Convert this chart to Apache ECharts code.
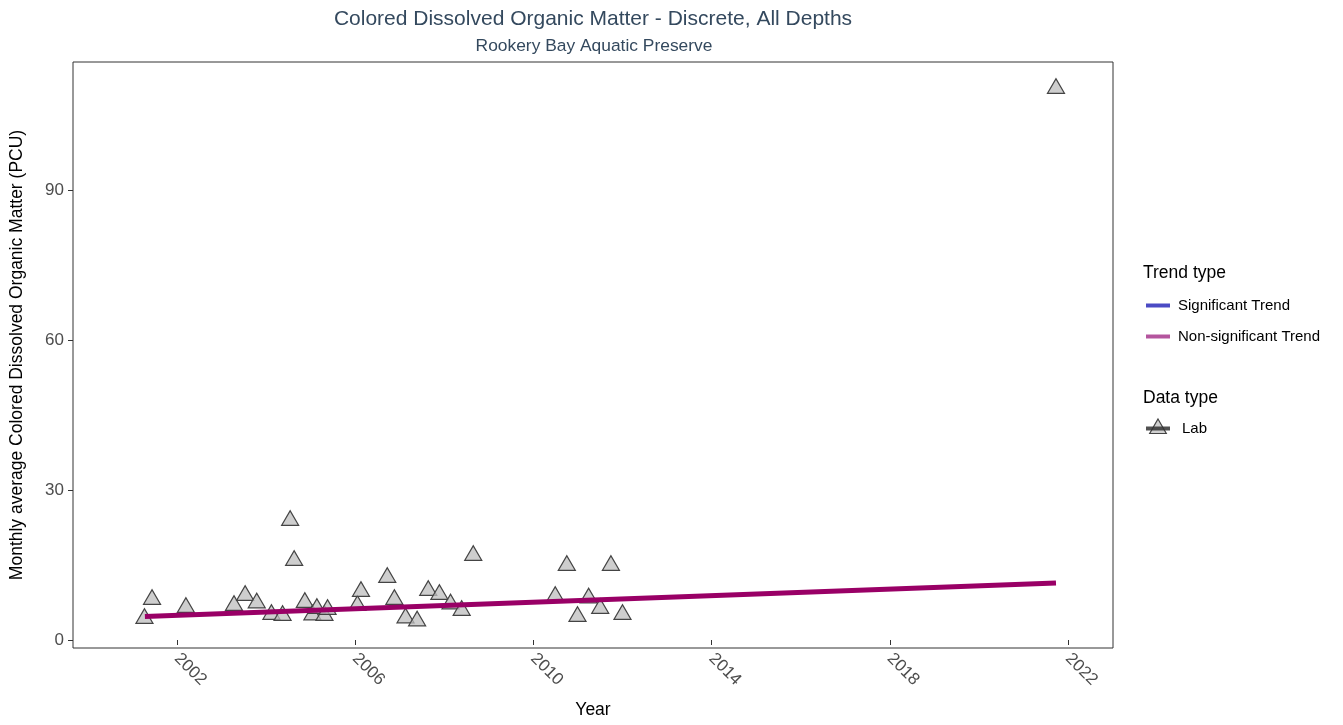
<!DOCTYPE html>
<html>
<head>
<meta charset="utf-8">
<script src="https://cdn.jsdelivr.net/npm/echarts@6/dist/echarts.min.js"></script>
<style>html,body{margin:0;padding:0;background:#fff}#c{width:1343px;height:725px}</style>
</head>
<body>
<div id="c"></div>
<script>
// Decimal years of monthly observations (Lab)
var labYears = [2001.27, 2001.44, 2002.20, 2003.28, 2003.53, 2003.79, 2004.12, 2004.37, 2004.54, 2004.63,
  2004.87, 2005.04, 2005.14, 2005.31, 2005.38, 2006.05, 2006.13, 2006.72, 2006.88, 2007.13,
  2007.39, 2007.64, 2007.89, 2008.14, 2008.39, 2008.65, 2010.49, 2010.75, 2010.99, 2011.24,
  2011.50, 2011.74, 2012.00, 2021.73];
var labValues = [4.3, 8.1, 6.5, 6.9, 8.9, 7.4, 5.1, 4.9, 23.9, 15.9,
  7.5, 5.0, 6.3, 4.9, 6.1, 6.9, 9.7, 12.5, 8.1, 4.4,
  3.8, 9.9, 9.1, 7.2, 5.9, 16.9, 8.7, 14.9, 4.7, 8.4,
  6.3, 14.9, 5.1, 110.3];
var trendYears = [2001.28, 2021.73];
var trendValues = [4.7, 11.4];
var xTicks = [2002, 2006, 2010, 2014, 2018, 2022];
var yTicks = [0, 30, 60, 90];

var labData = labYears.map(function (y, i) { return [y, labValues[i]]; });
var trendData = trendYears.map(function (y, i) { return [y, trendValues[i]]; });

var chart = echarts.init(document.getElementById('c'), null, { renderer: 'canvas' });
var font = 'Liberation Sans, Arial, sans-serif';
chart.setOption({
  animation: false,
  backgroundColor: '#fff',
  textStyle: { fontFamily: font },
  title: [
    { text: 'Colored Dissolved Organic Matter - Discrete, All Depths', left: 588, top: 4, textAlign: 'center',
      textStyle: { fontSize: 21, fontWeight: 'normal', color: '#34495e', fontFamily: font } },
    { text: 'Rookery Bay Aquatic Preserve', left: 589, top: 33, textAlign: 'center',
      textStyle: { fontSize: 17.4, fontWeight: 'normal', color: '#34495e', fontFamily: font } }
  ],
  grid: { left: 73, right: 230, top: 62, bottom: 77, show: true, borderColor: '#333', borderWidth: 1, backgroundColor: '#fff' },
  xAxis: {
    type: 'value', min: 1999.666, max: 2023.01,
    name: 'Year', nameLocation: 'middle', nameGap: 53,
    nameTextStyle: { fontSize: 17.5, color: '#000', fontFamily: font },
    axisLine: { show: false },
    splitLine: { show: false },
    axisTick: { show: true, length: 5, lineStyle: { color: '#333' }, customValues: xTicks },
    axisLabel: { customValues: xTicks, rotate: -45, fontSize: 17, color: '#4d4d4d', margin: 8, fontFamily: font,
      formatter: function (v) { return String(Math.round(v)); } }
  },
  yAxis: {
    type: 'value', min: -1.6, max: 115.6,
    name: 'Monthly average Colored Dissolved Organic Matter (PCU)', nameLocation: 'middle', nameGap: 47,
    nameTextStyle: { fontSize: 17.5, color: '#000', fontFamily: font },
    axisLine: { show: false },
    splitLine: { show: false },
    axisTick: { show: true, length: 5, lineStyle: { color: '#333' }, customValues: yTicks },
    axisLabel: { customValues: yTicks, fontSize: 17, color: '#4d4d4d', margin: 9, fontFamily: font }
  },
  legend: {
    orient: 'vertical', left: 1146, top: 298, padding: 0, itemWidth: 24, itemHeight: 4, itemGap: 16,
    textStyle: { fontSize: 15, color: '#000', fontFamily: font, padding: [0, 0, 0, 3] },
    data: [
      { name: 'Significant Trend', icon: 'rect' },
      { name: 'Non-significant Trend', icon: 'rect' }
    ]
  },
  graphic: [
    { type: 'text', left: 1143, top: 264, style: { text: 'Trend type', fill: '#000', font: '17.5px Liberation Sans, Arial, sans-serif' } },
    { type: 'text', left: 1143, top: 389, style: { text: 'Data type', fill: '#000', font: '17.5px Liberation Sans, Arial, sans-serif' } },
    { type: 'polygon', z: 100, shape: { points: [[1158, 419], [1166.3, 433.5], [1149.7, 433.5]] },
      style: { fill: '#d0d0d0', stroke: '#444', lineWidth: 1.2 } },
    { type: 'rect', z: 101, shape: { x: 1146, y: 426.5, width: 24, height: 4 }, style: { fill: 'rgba(51,51,51,0.85)' } },
    { type: 'text', left: 1182, top: 421, style: { text: 'Lab', fill: '#000', font: '15px Liberation Sans, Arial, sans-serif' } }
  ],
  series: [
    { name: 'Lab', type: 'scatter', data: labData, symbol: 'triangle', symbolSize: [17, 14.5], symbolOffset: [0, -2.4],
      itemStyle: { color: 'rgba(190,190,190,0.75)', borderColor: '#444', borderWidth: 1.2, opacity: 1 }, z: 2 },
    { name: 'Significant Trend', type: 'line', data: [], itemStyle: { color: '#4b4bc4' }, lineStyle: { color: '#4b4bc4', width: 4 } },
    { name: 'Non-significant Trend', type: 'line', data: trendData, showSymbol: false, symbol: 'none', z: 3,
      itemStyle: { color: '#b4559e' }, lineStyle: { color: '#990066', width: 5 } }
  ]
});
</script>
</body>
</html>
